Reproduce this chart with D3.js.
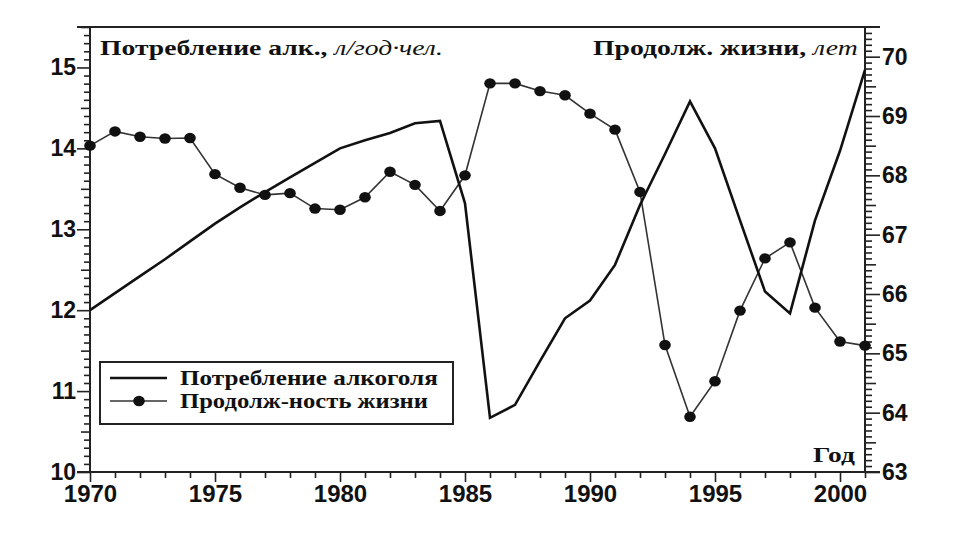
<!DOCTYPE html>
<html><head><meta charset="utf-8">
<script src="https://cdn.jsdelivr.net/npm/d3@7"></script>
<style>
html,body{margin:0;padding:0;background:#fff;}
svg{display:block;}
</style></head>
<body>
<svg id="chart" width="960" height="533"></svg>
<script>
const years = d3.range(1970, 2002);
const alcohol = [12.00,12.21,12.42,12.63,12.85,13.07,13.27,13.46,13.64,13.82,14.00,14.10,14.19,14.31,14.34,13.32,10.67,10.83,11.37,11.90,12.12,12.56,13.30,13.93,14.58,14.00,13.11,12.23,11.96,13.11,13.97,14.97];
const lifeExp = [68.50,68.74,68.65,68.62,68.63,68.02,67.79,67.67,67.70,67.44,67.42,67.63,68.06,67.84,67.40,68.00,69.55,69.55,69.42,69.35,69.04,68.77,67.72,65.14,63.93,64.53,65.72,66.60,66.87,65.77,65.20,65.13];
const leftTicks = [10,11,12,13,14,15];
const rightTicks = [63,64,65,66,67,68,69,70];
const yearTicks = [1970,1975,1980,1985,1990,1995,2000];
const leftTitle = ["Потребление алк., ", "л/год·чел."];
const rightTitle = ["Продолж. жизни, ", "лет"];
const xTitle = "Год";
const legendLabels = ["Потребление алкоголя", "Продолж-ность жизни"];

const svg = d3.select("#chart");
const L = 90, R = 865, T = 27, B = 472;
const x = d3.scaleLinear().domain([1970, 2001]).range([L, R]);
const yL = d3.scaleLinear().domain([10, 15.5]).range([B, T]);
const yR = d3.scaleLinear().domain([63, 70.5]).range([B, T]);

const sans = "'Liberation Sans', Arial, sans-serif";
const serif = "'Liberation Serif', 'Times New Roman', serif";

function styleAxis(g){
  g.select(".domain").remove();
  g.selectAll(".tick line").attr("stroke","#222").attr("stroke-width",1.6);
  g.selectAll("text").attr("font-family",sans).attr("font-weight","bold").attr("font-size",22).attr("fill","#111");
}

// left axis ticks
const minorL = d3.range(0,56).map(i => 10 + i*0.1).filter(v => Math.abs(v*2-Math.round(v*2))>1e-6);
svg.append("g").attr("transform",`translate(${L},0)`)
  .call(d3.axisLeft(yL).tickValues(minorL).tickSize(6).tickFormat(""))
  .call(styleAxis);
svg.append("g").attr("transform",`translate(${L},0)`)
  .call(d3.axisLeft(yL).tickValues([10.5,11.5,12.5,13.5,14.5,15.5]).tickSize(9).tickFormat(""))
  .call(styleAxis);
svg.append("g").attr("transform",`translate(${L},0)`)
  .call(d3.axisLeft(yL).tickValues(leftTicks).tickSize(13).tickPadding(1).tickFormat(d3.format("d")))
  .call(styleAxis)
  .selectAll("text").attr("font-size",23);

// right axis ticks
const minorR = d3.range(0,76).map(i => 63 + i*0.1).filter(v => Math.abs(v*2-Math.round(v*2))>1e-6);
svg.append("g").attr("transform",`translate(${R},0)`)
  .call(d3.axisRight(yR).tickValues(minorR).tickSize(7).tickFormat(""))
  .call(styleAxis);
svg.append("g").attr("transform",`translate(${R},0)`)
  .call(d3.axisRight(yR).tickValues([63.5,64.5,65.5,66.5,67.5,68.5,69.5]).tickSize(11).tickFormat(""))
  .call(styleAxis);
svg.append("g").attr("transform",`translate(${R},0)`)
  .call(d3.axisRight(yR).tickValues(rightTicks).tickSize(15).tickPadding(2).tickFormat(d3.format("d")))
  .call(styleAxis)
  .selectAll("text").attr("font-size",23);

// bottom axis ticks
svg.append("g").attr("transform",`translate(0,${B})`)
  .call(d3.axisBottom(x).tickValues(years.filter(y => y%5!==0)).tickSize(6).tickFormat(""))
  .call(styleAxis);
svg.append("g").attr("transform",`translate(0,${B})`)
  .call(d3.axisBottom(x).tickValues(yearTicks).tickSize(10).tickPadding(3).tickFormat(d3.format("d")))
  .call(styleAxis)
  .selectAll("text").attr("font-size",24);

// frame lines
svg.append("line").attr("x1",L-13).attr("x2",R+15).attr("y1",T).attr("y2",T).attr("stroke","#222").attr("stroke-width",2);
svg.append("line").attr("x1",L-13).attr("x2",R+15).attr("y1",B).attr("y2",B).attr("stroke","#222").attr("stroke-width",2);
svg.append("line").attr("x1",L).attr("x2",L).attr("y1",T).attr("y2",B).attr("stroke","#222").attr("stroke-width",2);
svg.append("line").attr("x1",R).attr("x2",R).attr("y1",T).attr("y2",B).attr("stroke","#222").attr("stroke-width",2);

// life expectancy line
const lineR = d3.line().x((d,i)=>x(years[i])).y(d=>yR(d));
svg.append("path").datum(lifeExp).attr("d",lineR).attr("fill","none").attr("stroke","#333").attr("stroke-width",1.6);
svg.append("g").selectAll("ellipse").data(lifeExp).join("ellipse")
  .attr("cx",(d,i)=>x(years[i])).attr("cy",d=>yR(d)).attr("rx",5.8).attr("ry",5.2).attr("fill","#111");

// alcohol line
const lineL = d3.line().x((d,i)=>x(years[i])).y(d=>yL(d));
svg.append("path").datum(alcohol).attr("d",lineL).attr("fill","none").attr("stroke","#111").attr("stroke-width",2.6).attr("stroke-linejoin","miter");

// text helper: draw text stretched horizontally to a target width
function stretched(parent, px, py, width, anchor, size, parts){
  const g = parent.append("g");
  const t = g.append("text").attr("x",0).attr("y",0).attr("font-family",serif).attr("font-weight","bold").attr("font-size",size).attr("fill","#111");
  parts.forEach(p => {
    const s = t.append("tspan").text(p.text);
    if (p.italic) s.attr("font-style","italic").attr("font-weight","normal");
  });
  const w = t.node().getComputedTextLength();
  const k = width / w;
  const x0 = anchor === "end" ? px - width : px;
  g.attr("transform",`translate(${x0},${py}) scale(${k},1)`);
  return g;
}

stretched(svg, 100, 55, 343, "start", 22, [{text:leftTitle[0]},{text:leftTitle[1],italic:true}]);
stretched(svg, 858, 55, 265, "end", 22, [{text:rightTitle[0]},{text:rightTitle[1],italic:true}]);
stretched(svg, 855, 462, 42, "end", 21, [{text:xTitle}]);

// legend
const lg = svg.append("g");
lg.append("rect").attr("x",100).attr("y",362).attr("width",353).attr("height",62).attr("fill","#fff").attr("stroke","#222").attr("stroke-width",2);
lg.append("line").attr("x1",110).attr("x2",167).attr("y1",378).attr("y2",378).attr("stroke","#111").attr("stroke-width",2.6);
lg.append("line").attr("x1",110).attr("x2",167).attr("y1",401).attr("y2",401).attr("stroke","#333").attr("stroke-width",1.6);
lg.append("ellipse").attr("cx",139).attr("cy",401).attr("rx",5.8).attr("ry",5.2).attr("fill","#111");
legendLabels.forEach((t,i)=>{
  stretched(lg, 180, 385+i*23, i===0?258:248, "start", 20, [{text:t}]);
});
</script>
</body></html>
